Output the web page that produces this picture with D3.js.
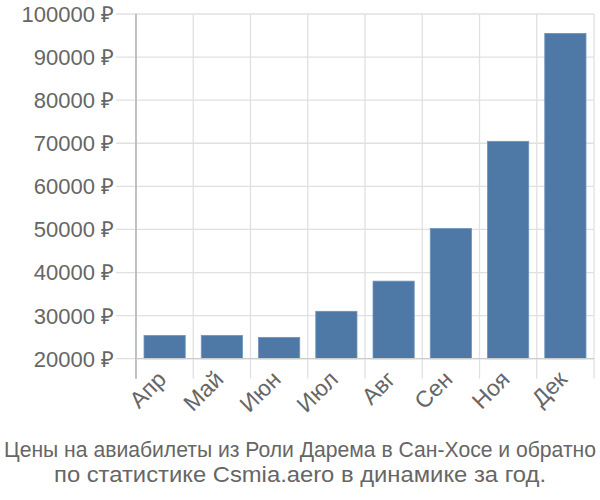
<!DOCTYPE html>
<html><head><meta charset="utf-8">
<script src="https://cdn.jsdelivr.net/npm/d3@7"></script>
<style>body{margin:0;background:#fff}</style>
</head><body>
<svg id="c" width="600" height="500"></svg>
<script>
const months = ["Апр","Май","Июн","Июл","Авг","Сен","Ноя","Дек"];
const prices = [25400, 25400, 24950, 31000, 38000, 50200, 70450, 95500];
const yTicks = [20000,30000,40000,50000,60000,70000,80000,90000,100000];
const titleLines = ["Цены на авиабилеты из Роли Дарема в Сан-Хосе и обратно","по статистике Csmia.aero в динамике за год."];
const titleWidths = [592, 492];

const svg = d3.select("#c");
const L = 136, R = 594, T = 14, B = 358.7;
const x = d3.scaleBand().domain(months).range([L, R]).paddingInner(0.28).paddingOuter(0.14);
const y = d3.scaleLinear().domain([20000, 100000]).range([B, T]);
const font = "'Liberation Sans', Arial, sans-serif";

// horizontal grid
svg.append("g").selectAll("line").data(yTicks).join("line")
  .attr("x1", 116).attr("x2", R).attr("y1", d => y(d)).attr("y2", d => y(d))
  .attr("stroke", "#e0e0e0").attr("stroke-width", 1.3);
// vertical grid
const vx = months.map(m => x(m) - x.step()*x.paddingInner()/2).concat([R]);
svg.append("g").selectAll("line").data(vx).join("line")
  .attr("x1", d => d).attr("x2", d => d).attr("y1", T).attr("y2", B + 20)
  .attr("stroke", "#e0e0e0").attr("stroke-width", 1.3);

// bars
svg.append("g").selectAll("rect").data(prices).join("rect")
  .attr("x", (d,i) => x(months[i])).attr("width", x.bandwidth())
  .attr("y", d => y(d)).attr("height", d => B - y(d))
  .attr("fill", "#4e79a7").attr("stroke", "#6f93bb").attr("stroke-width", 0.8);

// axes lines
svg.append("line").attr("x1", L).attr("x2", L).attr("y1", T).attr("y2", B + 20)
  .attr("stroke", "#aaaaaa").attr("stroke-width", 1.3);
svg.append("line").attr("x1", L).attr("x2", R).attr("y1", B).attr("y2", B)
  .attr("stroke", "#cccccc").attr("stroke-width", 1.3);

// y labels
svg.append("g").selectAll("text").data(yTicks).join("text")
  .attr("x", 114).attr("y", d => y(d)).attr("dy", "0.36em")
  .attr("text-anchor", "end").attr("font-family", font).attr("font-size", 22)
  .attr("fill", "#666").text(d => d + " ₽");

// x labels
svg.append("g").selectAll("text").data(months).join("text")
  .attr("transform", m => `translate(${x(m) + x.bandwidth()/2 + 3},${B + 22}) rotate(-45)`)
  .attr("text-anchor", "end").attr("font-family", font).attr("font-size", 23)
  .attr("fill", "#666").text(m => m);

// title
svg.append("g").selectAll("text").data(titleLines).join("text")
  .attr("x", 300).attr("y", (d,i) => 456.5 + i*25.2)
  .attr("text-anchor", "middle").attr("font-family", font)
  .attr("font-size", 22).attr("fill", "#666")
  .attr("textLength", (d,i) => titleWidths[i]).attr("lengthAdjust", "spacingAndGlyphs")
  .text(d => d);
</script>
</body></html>
